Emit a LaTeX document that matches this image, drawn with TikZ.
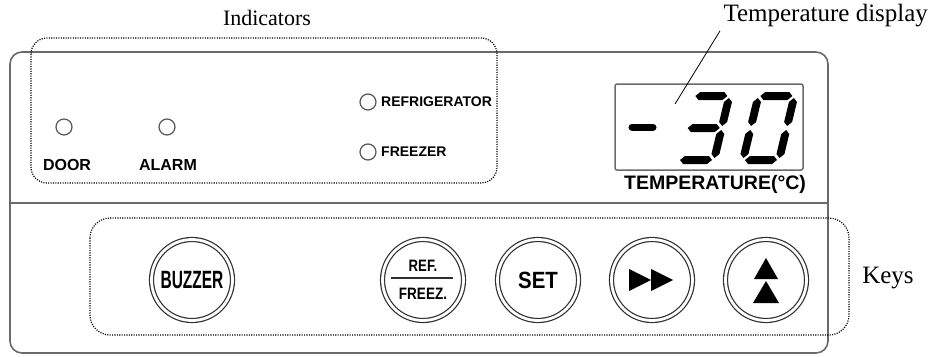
\documentclass[tikz,border=0pt]{standalone}
\usepackage{graphicx}
\usepackage{fontspec}
\setmainfont{Liberation Serif}
\newfontfamily\panelfont{Liberation Sans}
\definecolor{panelgray}{HTML}{6A6A6A}
\definecolor{ledgray}{HTML}{555555}
\definecolor{keygray}{HTML}{2E2E2E}
\tikzset{
    panelline/.style={draw=panelgray, line width=1.6pt},
    ledring/.style={circle, draw=ledgray, line width=1.2pt, minimum size=16pt, inner sep=0pt},
    keybtn/.style={circle, draw=keygray, line width=1.2pt, double=white, double distance=2.8pt,
        minimum size=81pt, inner sep=0pt},
    panellbl/.style={font=\panelfont\bfseries\fontsize{#1}{#1}\selectfont, inner sep=0pt},
    panellbl/.default=16,
    callout/.style={font=\fontsize{#1}{#1}\selectfont},
    groupbox/.style={draw, line width=1.2pt, dash pattern=on 1.1pt off 1.3pt, rounded corners=#1},
    digit/.style={xslant=0.24}
}
% one segment of the display, x1 x2 y / x y1 y2
\newcommand{\hseg}[3]{\fill (#1,#3) -- ({#1+4},{#3-4}) -- ({#2-4},{#3-4}) -- (#2,#3) -- ({#2-4},{#3+4}) -- ({#1+4},{#3+4}) -- cycle;}
\newcommand{\vseg}[3]{\fill (#1,#2) -- ({#1+4},{#2+4}) -- ({#1+4},{#3-4}) -- (#1,#3) -- ({#1-4},{#3-4}) -- ({#1-4},{#2+4}) -- cycle;}

\begin{document}
\begin{tikzpicture}[x=1pt,y=-1pt]
		\useasboundingbox (0,0) rectangle (944,356);
		
		% Front panel
		\draw [panelline, rounded corners=12pt] (10,52) rectangle (828,353);
		\draw [panelline] (10,203) -- (828,203);
		
		% Indicator lamps
		\node [ledring] (ledDoor) at (64,127) {};
		\node [panellbl] (txtDoor) at (67,165) {DOOR};
		\node [ledring] (ledAlarm) at (167,127) {};
		\node [panellbl] (txtAlarm) at (168,165) {ALARM};
		\node [ledring] (ledRef) at (368,102) {};
		\node [panellbl=14, anchor=west] (txtRef) at (381,102) {REFRIGERATOR};
		\node [ledring] (ledFrz) at (368,152) {};
		\node [panellbl=14, anchor=west] (txtFrz) at (381,152) {FREEZER};
		
		% Temperature display
		\node [draw=panelgray, line width=1.5pt, rounded corners=2pt, minimum width=188pt,
			minimum height=86pt] (dispBox) at (709,127) {};
		\node [panellbl=19.5] (txtTemp) at (715,184) {TEMPERATURE(°C)};
		
		% Digits -30
		\draw [line width=7pt, line cap=round] (632,127) -- (653,127);
		\begin{scope}[shift={(678,160)}, digit]
			\hseg{2}{34}{-64}
			\vseg{36}{-62}{-34}
			\hseg{2}{34}{-32}
			\vseg{36}{-30}{-2}
			\hseg{2}{34}{0}
		\end{scope}
		\begin{scope}[shift={(743,160)}, digit]
			\hseg{2}{34}{-64}
			\vseg{36}{-62}{-34}
			\vseg{36}{-30}{-2}
			\hseg{2}{34}{0}
			\vseg{0}{-30}{-2}
			\vseg{0}{-62}{-34}
		\end{scope}
		
		% Keys
		\node [keybtn, panellbl=25] (kBuzzer) at (192,280) {\scalebox{0.62}[1]{BUZZER}};
		\node [keybtn] (kRefFrz) at (423,280) {};
		\node [panellbl=16.5] at ([yshift=14pt]kRefFrz.center) {\scalebox{0.8}[1]{REF.}};
		\node [panellbl=16.5] at ([yshift=-14pt]kRefFrz.center) {\scalebox{0.82}[1]{FREEZ.}};
		\draw [keygray, line width=1.3pt] ([xshift=-32pt,yshift=2pt]kRefFrz.center) -- ([xshift=30pt,yshift=2pt]kRefFrz.center);
		\node [keybtn, panellbl=23.5] (kSet) at (538,280) {\scalebox{0.87}[1]{SET}};
		\node [keybtn] (kNext) at (652,280) {};
		\fill [shift={(kNext.center)}] (-23,-11) -- (-1,0) -- (-23,11) -- cycle;
		\fill [shift={(kNext.center)}] (-1,-11) -- (21,0) -- (-1,11) -- cycle;
		\node [keybtn] (kUp) at (766,280) {};
		\fill [shift={(kUp.center)}] (0,-22) -- (12,-1) -- (-12,-1) -- cycle;
		\fill [shift={(kUp.center)}] (0,1) -- (13,23) -- (-13,23) -- cycle;
		
		% Groups and callouts
		\draw [groupbox=16pt] (31,38) rectangle (497,183);
		\node [callout=22] (lblInd) at (267,18) {Indicators};
		\draw [groupbox=20pt] (90,218) rectangle (849,335);
		\node [callout=25] (lblKeys) at (888,278) {Keys};
		\node [callout=25, anchor=west] (lblTemp) at (720,16) {Temperature display};
		\coordinate (dispPt) at (675,104);
		\draw [line width=0.8pt] (lblTemp.south west) -- (dispPt);
		
	\end{tikzpicture}
\end{document}
